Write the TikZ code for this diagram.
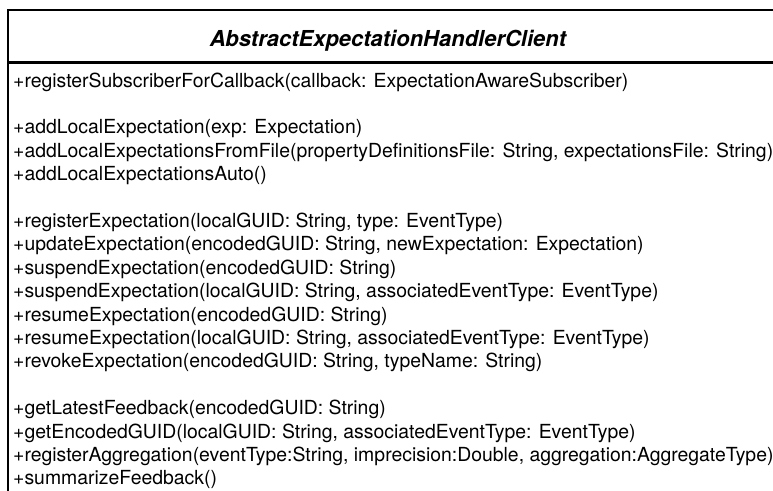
\documentclass[tikz,border=0pt]{standalone}
\usepackage{fontspec}
\setmainfont{TeX Gyre Heros}
\begin{document}
\begin{tikzpicture}[x=1pt,y=-1pt,
  classbox/.style={draw=black, line width=2.6pt, fill=white, anchor=north west, outer sep=0pt, inner sep=0pt},
  member/.style={anchor=base west, inner sep=0pt, font=\fontsize{19.4}{23}\selectfont},
  classtitle/.style={anchor=base, inner sep=0pt, font=\fontsize{22}{26}\selectfont\bfseries\itshape}]
\useasboundingbox (0,0) rectangle (773,490);
\fill[white] (0,0) rectangle (773,490);
\clip (0,0) rectangle (773,490);
\node[classbox, minimum width=800pt, minimum height=520pt] (cls) at (8,10) {};
\coordinate (sepL) at (8,62.5);
\coordinate (sepR) at (810,62.5);
\draw[line width=2.4pt] (sepL) -- (sepR);
\node[classtitle] (title) at (388,46.5) {AbstractExpectationHandlerClient};
\node[member] (m1) at (13,87.0) {+registerSubscriberForCallback(callback: ExpectationAwareSubscriber)};
\node[member] (m2) at (13,133.8) {+addLocalExpectation(exp: Expectation)};
\node[member] (m3) at (13,157.2) {+addLocalExpectationsFromFile(propertyDefinitionsFile: String, expectationsFile: String)};
\node[member] (m4) at (13,180.6) {+addLocalExpectationsAuto()};
\node[member] (m5) at (13,227.4) {+registerExpectation(localGUID: String, type: EventType)};
\node[member] (m6) at (13,250.8) {+updateExpectation(encodedGUID: String, newExpectation: Expectation)};
\node[member] (m7) at (13,274.2) {+suspendExpectation(encodedGUID: String)};
\node[member] (m8) at (13,297.6) {+suspendExpectation(localGUID: String, associatedEventType: EventType)};
\node[member] (m9) at (13,321.0) {+resumeExpectation(encodedGUID: String)};
\node[member] (m10) at (13,344.4) {+resumeExpectation(localGUID: String, associatedEventType: EventType)};
\node[member] (m11) at (13,367.8) {+revokeExpectation(encodedGUID: String, typeName: String)};
\node[member] (m12) at (13,414.6) {+getLatestFeedback(encodedGUID: String)};
\node[member] (m13) at (13,438.0) {+getEncodedGUID(localGUID: String, associatedEventType: EventType)};
\node[member] (m14) at (13,461.4) {+registerAggregation(eventType:String, imprecision:Double, aggregation:AggregateType)};
\node[member] (m15) at (13,484.8) {+summarizeFeedback()};
\end{tikzpicture}
\end{document}
